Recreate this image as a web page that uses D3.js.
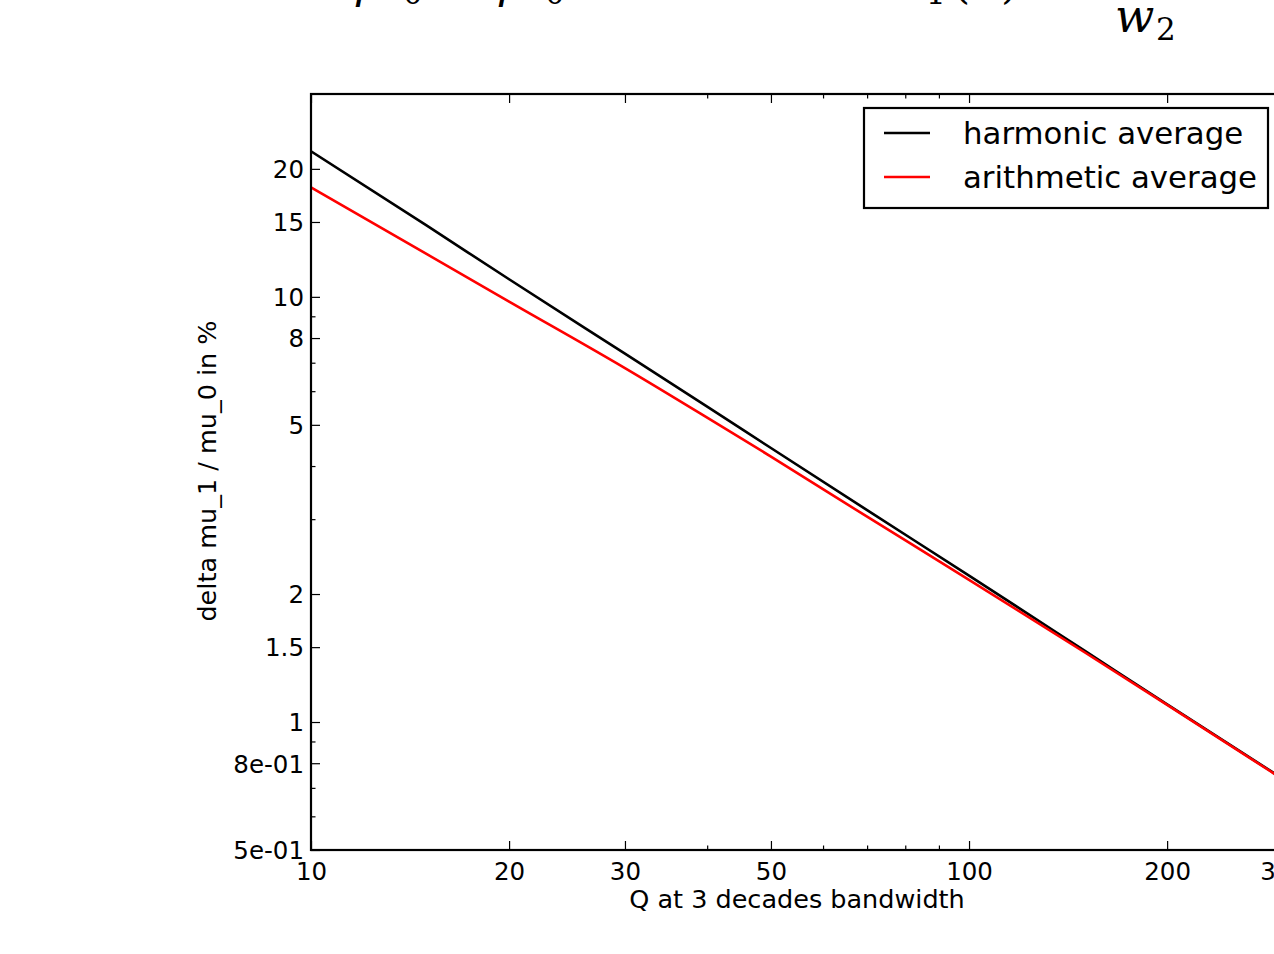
<!DOCTYPE html>
<html>
<head>
<meta charset="utf-8">
<title>delta mu_1 / mu_0 vs Q</title>
<style>
  body { margin: 0; background: #fff; }
  svg { display: block; }
  .tick text { font-family: "DejaVu Sans", sans-serif; font-size: 24.5px; fill: #000; }
  .tick line { stroke: #000; stroke-width: 1.2px; }
  .lbl { font-family: "DejaVu Sans", sans-serif; font-size: 25.5px; fill: #000; }
  .leg { font-family: "DejaVu Sans", sans-serif; font-size: 30.8px; fill: #000; }
  .math { font-family: "DejaVu Serif", serif; fill: #000; }
</style>
<script src="https://cdn.jsdelivr.net/npm/d3@7"></script>
</head>
<body>
<div id="chart"></div>
<script>
// values
var qValues = [10, 15, 20, 30, 40, 50, 70, 100, 150, 200, 300];
var harmonic = [22.0, 14.7, 11.0, 7.35, 5.52, 4.41, 3.15, 2.21, 1.47, 1.10, 0.735];
var arithmetic = [18.1, 12.6, 9.75, 6.8, 5.2, 4.21, 3.04, 2.16, 1.457, 1.097, 0.733];

var seriesNames = ['harmonic average', 'arithmetic average'];
var seriesColors = ['#000000', '#ff0000'];

var xMajor = [10, 20, 30, 50, 100, 200, 300];
var xMinor = [40, 60, 70, 80, 90];
var yMajor = [0.5, 0.8, 1, 1.5, 2, 5, 8, 10, 15, 20];
var yMinor = [0.6, 0.7, 0.9, 3, 4, 6, 7, 9];
var yLabels = {0.5: '5e-01', 0.8: '8e-01'};

var W = 1274, H = 954;
var plotL = 311, plotT = 94, plotR = 1283, plotB = 850;

var svg = d3.select('#chart').append('svg').attr('width', W).attr('height', H);

var x = d3.scaleLog().domain([10, 300]).range([plotL, plotR]);
var y = d3.scaleLog().domain([0.5, 30]).range([plotB, plotT]);

// clipped title (only the lower part of the formula is in frame)
var titleBits = [
  {t: '\u03C1', x: 356, y: -2, s: 44, it: true},
  {t: '0', x: 403, y: 4, s: 31, it: false},
  {t: '\u03C1', x: 499, y: -2, s: 44, it: true},
  {t: '0', x: 545, y: 4, s: 31, it: false},
  {t: '1', x: 926, y: 4, s: 31, it: false},
  {t: '(', x: 953, y: -2, s: 44, it: false},
  {t: ')', x: 1001, y: -2, s: 44, it: false},
  {t: 'w', x: 1115, y: 32, s: 46, it: true},
  {t: '2', x: 1156, y: 40, s: 31, it: false}
];
svg.selectAll('text.math').data(titleBits).enter().append('text')
  .attr('class', 'math')
  .attr('x', function(d){ return d.x; })
  .attr('y', function(d){ return d.y; })
  .style('font-size', function(d){ return d.s + 'px'; })
  .style('font-style', function(d){ return d.it ? 'italic' : 'normal'; })
  .text(function(d){ return d.t; });

var g = svg.append('g');

// clip for the lines
g.append('clipPath').attr('id', 'plotclip').append('rect')
  .attr('x', plotL).attr('y', plotT).attr('width', plotR - plotL).attr('height', plotB - plotT);

var line = d3.line()
  .curve(d3.curveMonotoneX)
  .x(function(d){ return x(d[0]); })
  .y(function(d){ return y(d[1]); });

[harmonic, arithmetic].forEach(function(vals, i){
  g.append('path')
    .datum(qValues.map(function(q, j){ return [q, vals[j]]; }))
    .attr('clip-path', 'url(#plotclip)')
    .attr('fill', 'none')
    .attr('stroke', seriesColors[i])
    .attr('stroke-width', 2.6)
    .attr('d', line);
});

// axes, ticks pointing inwards like the old matplotlib style
var fmtX = function(d){ return String(d); };
var fmtY = function(d){ return yLabels[d] || String(d); };

var bx = g.append('g').attr('transform', 'translate(0,' + plotB + ')')
  .call(d3.axisBottom(x).tickValues(xMajor).tickFormat(fmtX).tickSizeInner(-9).tickSizeOuter(0).tickPadding(15));
bx.selectAll('.tick text').attr('dy', '0.62em');
g.append('g').attr('transform', 'translate(0,' + plotB + ')')
  .call(d3.axisBottom(x).tickValues(xMinor).tickFormat('').tickSizeInner(-4.5).tickSizeOuter(0));
g.append('g').attr('transform', 'translate(0,' + plotT + ')')
  .call(d3.axisTop(x).tickValues(xMajor).tickFormat('').tickSizeInner(-9).tickSizeOuter(0));
g.append('g').attr('transform', 'translate(0,' + plotT + ')')
  .call(d3.axisTop(x).tickValues(xMinor).tickFormat('').tickSizeInner(-4.5).tickSizeOuter(0));

var ly = g.append('g').attr('transform', 'translate(' + plotL + ',0)')
  .call(d3.axisLeft(y).tickValues(yMajor).tickFormat(fmtY).tickSizeInner(-9).tickSizeOuter(0).tickPadding(7));
ly.selectAll('.tick text').attr('dy', '0.36em');
g.append('g').attr('transform', 'translate(' + plotL + ',0)')
  .call(d3.axisLeft(y).tickValues(yMinor).tickFormat('').tickSizeInner(-4.5).tickSizeOuter(0));
g.append('g').attr('transform', 'translate(' + plotR + ',0)')
  .call(d3.axisRight(y).tickValues(yMajor).tickFormat('').tickSizeInner(-9).tickSizeOuter(0));

g.selectAll('.domain').remove();

// frame
g.append('rect')
  .attr('x', plotL).attr('y', plotT).attr('width', plotR - plotL).attr('height', plotB - plotT)
  .attr('fill', 'none').attr('stroke', '#000').attr('stroke-width', 2.2);

// axis labels
svg.append('text').attr('class', 'lbl')
  .attr('x', 797).attr('y', 908).attr('text-anchor', 'middle')
  .text('Q at 3 decades bandwidth');
svg.append('text').attr('class', 'lbl')
  .attr('transform', 'translate(216,471) rotate(-90)').attr('text-anchor', 'middle')
  .text('delta mu_1 / mu_0 in %');

// legend
var leg = svg.append('g');
leg.append('rect').attr('x', 864).attr('y', 108).attr('width', 404).attr('height', 100)
  .attr('fill', '#fff').attr('stroke', '#000').attr('stroke-width', 2.2);
seriesNames.forEach(function(name, i){
  var yy = 133 + i * 44;
  leg.append('line').attr('x1', 884).attr('x2', 930).attr('y1', yy).attr('y2', yy)
    .attr('stroke', seriesColors[i]).attr('stroke-width', 2.6);
  leg.append('text').attr('class', 'leg').attr('x', 963).attr('y', yy + 11).text(name);
});
</script>
</body>
</html>
